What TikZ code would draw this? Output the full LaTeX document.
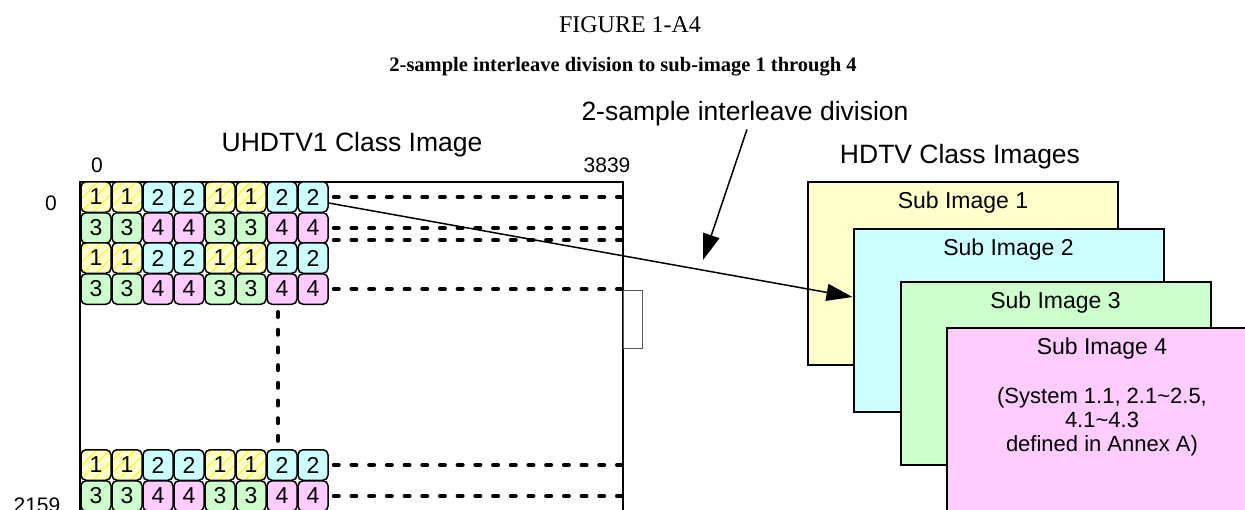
\documentclass[tikz,border=0pt]{standalone}
\usepackage{fontspec}
\setmainfont{Liberation Serif}
\setsansfont{Liberation Sans}
\usepackage{xcolor}
\usepackage{tikz}
\usetikzlibrary{positioning,calc,patterns.meta,arrows.meta}

\definecolor{subyel}{HTML}{FFFFCC}
\definecolor{subcyan}{HTML}{CCFFFF}
\definecolor{subgreen}{HTML}{CCFFCC}
\definecolor{subpink}{HTML}{FFCCFF}

\tikzset{
    captxt/.style={font=\fontsize{24}{28}\selectfont},
    lbl/.style={font=\sffamily\fontsize{26.5}{31}\selectfont},
    numtxt/.style={font=\sffamily\fontsize{21}{25}\selectfont},
    frame/.style={draw, line width=1.5pt, inner sep=0pt, outer sep=0pt},
    cell/.style={draw, line width=1.5pt, rounded corners=5pt, minimum width=30pt,
        minimum height=30.5pt, inner sep=0pt, font=\sffamily\fontsize{23}{23}\selectfont},
    cell1/.style={cell, preaction={fill=subyel},
        pattern={Lines[angle=45,distance=9pt,line width=0.9pt]}, pattern color=yellow},
    cell2/.style={cell, fill=subcyan},
    cell3/.style={cell, fill=subgreen},
    cell4/.style={cell, fill=subpink},
    dotline/.style={line width=4pt, line cap=round, dash pattern=on 5pt off 12.7pt},
    subimg/.style={draw, line width=2pt, minimum width=310pt, minimum height=183pt, inner sep=0pt},
    subtxt/.style={font=\sffamily\fontsize{23}{27}\selectfont},
    arr/.style={line width=1.5pt, -{Triangle[length=26pt,width=17pt]}}
}

\begin{document}
\begin{tikzpicture}[x=1pt, y=-1pt]
    \useasboundingbox (0,0) rectangle (1245,509);
    \clip (0,0) rectangle (1245,509);

    % Caption
    \node[captxt] (fig) at (630,25) {FIGURE 1-A4};
    \node[captxt, font=\bfseries\fontsize{20.5}{24}\selectfont] (cap) at (623,67)
        {2-sample interleave division to sub-image 1 through 4};

    % UHDTV1 image
    \node[lbl] (div) at (745,113.5) {2-sample interleave division};
    \node[lbl] (uhdlbl) at (352,145) {UHDTV1 Class Image};
    \node[numtxt] (x0) at (97,165) {0};
    \node[numtxt] (x1) at (607,165) {3839};
    \node[numtxt] (y0) at (51,203) {0};
    \node[numtxt] (y1) at (37,505) {2159};

    \node[frame, minimum width=543pt, minimum height=340pt] (uhd) at (351.5,352) {};
    \draw[gray!70!black, line width=1pt] (623,290) rectangle (642,348);

    % sample cells
    \foreach \r/\y in {1/197,2/228,3/258,4/289,5/465,6/496} {
        \foreach \c in {1,...,8} {
            \pgfmathtruncatemacro{\grp}{mod(floor((\c-1)/2),2)}
            \pgfmathtruncatemacro{\num}{ifthenelse(mod(\r,2)==1,1,3)+\grp}
            \node[cell\num] (c-\r-\c) at ({96+31*(\c-1)},\y) {\num};
        }
    }

    % row continuation
    \foreach \r in {1,2,4,5,6} {
        \draw[dotline, shorten <=5pt] (c-\r-8.east) -- (c-\r-8.east -| uhd.east);
    }
    \draw[dotline, shorten <=5pt] ([yshift=-12pt]c-2-8.east) -- ([yshift=-12pt]c-2-8.east -| uhd.east);
    \draw[dotline, shorten <=7pt, shorten >=7pt] ([xshift=-4pt]c-4-7.south) -- ([xshift=-4pt]c-5-7.north);

    % HDTV sub images
    \node[lbl] (hdlbl) at (960,156.5) {HDTV Class Images};
    \node[subimg, fill=subyel] (sub1) at (963,273.5) {};
    \node[subtxt] (t1) at ([yshift=-22pt]sub1.north) {Sub Image 1};
    \node[subimg, fill=subcyan] (sub2) at (1008.5,320) {};
    \node[subtxt] (t2) at ([yshift=-22pt]sub2.north) {Sub Image 2};
    \node[subimg, fill=subgreen] (sub3) at (1055.5,373.5) {};
    \node[subtxt] (t3) at ([yshift=-22pt]sub3.north) {Sub Image 3};
    \node[subimg, fill=subpink] (sub4) at (1102,419.5) {};
    \node[subtxt] (t4) at ([yshift=-22pt]sub4.north) {Sub Image 4};
    \node[subtxt, align=center, font=\sffamily\fontsize{22}{24}\selectfont] (t4b) at ([yshift=-2.5pt]sub4.center)
        {(System 1.1, 2.1\textasciitilde 2.5,\\4.1\textasciitilde 4.3\\defined in Annex A)};

    % arrows
    \coordinate (divtip) at (703,260);
    \draw[arr] ([xshift=2pt]div.south) -- (divtip);
    \draw[arr] ([yshift=-6pt]c-1-8.east) -- ([yshift=23pt]sub2.west);
\end{tikzpicture}
\end{document}
